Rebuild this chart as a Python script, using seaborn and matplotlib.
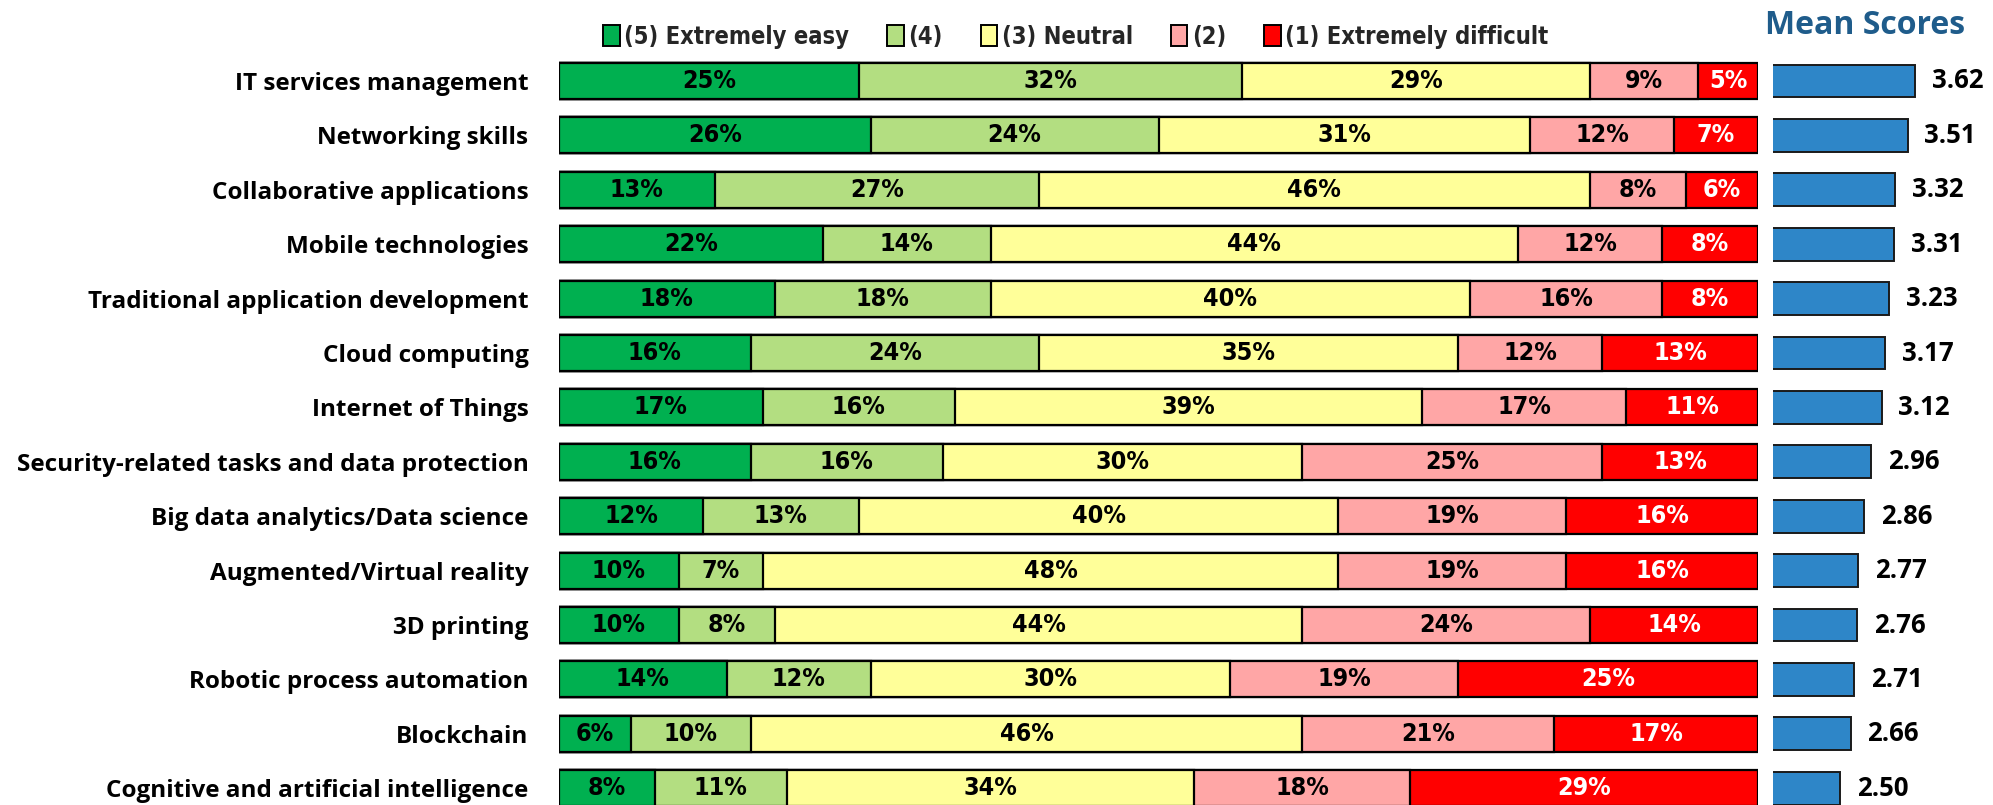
import numpy as np
import pandas as pd
import matplotlib
matplotlib.use("Agg")
import matplotlib.pyplot as plt
from matplotlib.patches import Patch
import seaborn as sns

# Survey data: ease of finding skills, share of responses per rating
skills = [
    "IT services management",
    "Networking skills",
    "Collaborative applications",
    "Mobile technologies",
    "Traditional application development",
    "Cloud computing",
    "Internet of Things",
    "Security-related tasks and data protection",
    "Big data analytics/Data science",
    "Augmented/Virtual reality",
    "3D printing",
    "Robotic process automation",
    "Blockchain",
    "Cognitive and artificial intelligence",
]
extremely_easy = [25, 26, 13, 22, 18, 16, 17, 16, 12, 10, 10, 14, 6, 8]
rating_4 = [32, 24, 27, 14, 18, 24, 16, 16, 13, 7, 8, 12, 10, 11]
neutral = [29, 31, 46, 44, 40, 35, 39, 30, 40, 48, 44, 30, 46, 34]
rating_2 = [9, 12, 8, 12, 16, 12, 17, 25, 19, 19, 24, 19, 21, 18]
extremely_difficult = [5, 7, 6, 8, 8, 13, 11, 13, 16, 16, 14, 25, 17, 29]
mean_scores = [3.62, 3.51, 3.32, 3.31, 3.23, 3.17, 3.12, 2.96, 2.86, 2.77, 2.76, 2.71, 2.66, 2.50]

series_names = ["(5) Extremely easy", "(4)", "(3) Neutral", "(2)", "(1) Extremely difficult"]
series_values = [extremely_easy, rating_4, neutral, rating_2, extremely_difficult]
series_colors = ["#00B050", "#B3DE81", "#FFFF99", "#FFA6A6", "#FF0000"]
text_colors = ["black", "black", "black", "black", "white"]

sns.set_theme(style="white")
plt.rcParams["font.family"] = ["Open Sans", "DejaVu Sans"]

W, H = 1993, 805
fig = plt.figure(figsize=(W / 100, H / 100), dpi=100)

# Row geometry in pixels: first row centre and row pitch
row0, pitch = 81.0, 54.4
y_top = (0 - row0) / pitch
y_bot = (H - row0) / pitch

ax = fig.add_axes([559 / W, 0, (1758 - 559) / W, 1])
axm = fig.add_axes([1773 / W, 0, (W - 1773) / W, 1])

df = pd.DataFrame({name: vals for name, vals in zip(series_names, series_values)})
df["skill"] = skills
cum = df[series_names].cumsum(axis=1)

# Stacked bars: draw cumulative totals from the widest down
for name, color in zip(series_names[::-1], series_colors[::-1]):
    sns.barplot(x=cum[name], y=df["skill"], orient="h", color=color,
                edgecolor="black", linewidth=1.6, width=0.66,
                saturation=1, ax=ax)

ax.set_xlim(0, 100)
ax.set_ylim(y_bot, y_top)
ax.set_xlabel("")
ax.set_ylabel("")
ax.set_xticks([])
ax.tick_params(axis="y", length=0, pad=22)
for lbl in ax.get_yticklabels():
    lbl.set_fontsize(17.5)
    lbl.set_fontweight("bold")
    lbl.set_color("black")
    lbl.set_family(["Open Sans", "DejaVu Sans"])
for s in ax.spines.values():
    s.set_visible(False)

# Percentage labels centred in each segment
pct_font = dict(family=["DejaVu Sans"], fontstretch="condensed", fontweight="bold")
for i in range(len(skills)):
    left = 0
    for vals, tc in zip(series_values, text_colors):
        v = vals[i]
        ax.text(left + v / 2, i, f"{v}%", ha="center", va="center",
                fontsize=18, color=tc, **pct_font)
        left += v

# Mean score bars
sns.barplot(x=mean_scores, y=skills, orient="h", color="#2E86C8",
            edgecolor="#1a1a1a", linewidth=1.4, width=0.6, saturation=1, ax=axm)
axm.set_xlim(1.5, 1.5 + (W - 1773) / 67.0)
axm.set_ylim(y_bot, y_top)
axm.set_xticks([])
axm.set_yticks([])
axm.set_xlabel("")
axm.set_ylabel("")
for s in axm.spines.values():
    s.set_visible(False)
for i, m in enumerate(mean_scores):
    axm.text(m + 0.25, i, f"{m:.2f}", ha="left", va="center",
             fontsize=18.5, fontweight="bold", color="black")

fig.text(1765 / W, 1 - 26 / H, "Mean Scores", ha="left", va="center",
         fontsize=23, fontweight="bold", color="#1F5C8B")

# Legend across the top of the stacked bars
handles = [Patch(facecolor=c, edgecolor="black", linewidth=1.4) for c in series_colors]
fig.legend(handles, series_names, loc="center left", bbox_to_anchor=(582 / W, 1 - 37 / H),
           ncol=5, frameon=False, handlelength=0.7, handleheight=1.0,
           handletextpad=0.2, columnspacing=1.6,
           prop={"family": "DejaVu Sans", "stretch": "condensed", "weight": "bold", "size": 17})

fig.savefig("out.png", dpi=100, facecolor="white")
